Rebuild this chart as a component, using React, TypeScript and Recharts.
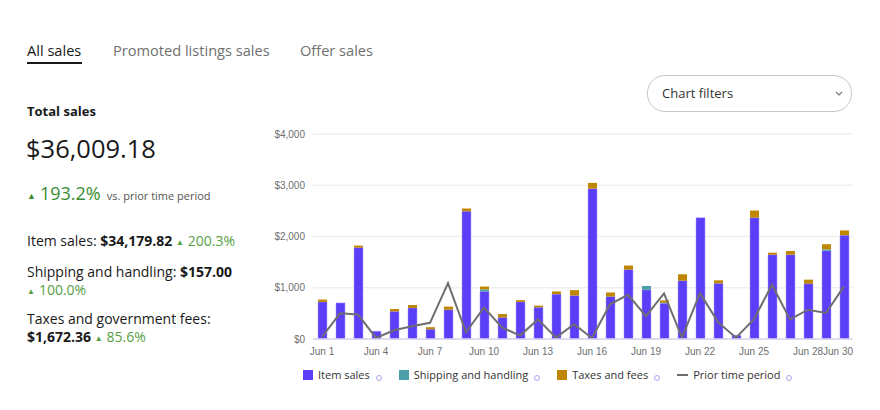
import React from "react";
import {
  ComposedChart,
  Bar,
  Line,
  XAxis,
  YAxis,
  CartesianGrid,
} from "recharts";

const days = [
  "Jun 1", "Jun 2", "Jun 3", "Jun 4", "Jun 5", "Jun 6", "Jun 7", "Jun 8", "Jun 9", "Jun 10",
  "Jun 11", "Jun 12", "Jun 13", "Jun 14", "Jun 15", "Jun 16", "Jun 17", "Jun 18", "Jun 19", "Jun 20",
  "Jun 21", "Jun 22", "Jun 23", "Jun 24", "Jun 25", "Jun 26", "Jun 27", "Jun 28", "Jun 29", "Jun 30",
];

const itemSales = [
  724, 704, 1783, 151, 539, 605, 191, 572, 2493, 928,
  421, 724, 618, 875, 849, 2934, 829, 1355, 960, 697,
  1138, 2368, 1086, 72, 2368, 1645, 1645, 1079, 1724, 2026,
];

const shipping = [
  0, 0, 0, 0, 0, 0, 0, 0, 0, 40,
  0, 0, 0, 0, 0, 0, 0, 0, 75, 12,
  0, 0, 0, 0, 0, 0, 0, 0, 25, 0,
];

const taxes = [
  46, 0, 40, 0, 46, 59, 39, 60, 53, 55,
  66, 33, 33, 53, 105, 112, 79, 79, 0, 45,
  125, 0, 59, 0, 139, 39, 72, 79, 100, 92,
];

const priorPeriod = [
  39, 500, 480, 20, 171, 250, 316, 1092, 132, 612,
  224, 66, 382, 26, 289, 20, 678, 862, 447, 888,
  26, 895, 329, 26, 388, 1059, 382, 572, 507, 1026,
];

const xTicks = ["Jun 1", "Jun 4", "Jun 7", "Jun 10", "Jun 13", "Jun 16", "Jun 19", "Jun 22", "Jun 25", "Jun 28", "Jun 30"];
const yTicks = [0, 1000, 2000, 3000, 4000];

const chartData = days.map((d, i) => ({
  day: d,
  item: itemSales[i],
  ship: shipping[i],
  tax: taxes[i],
  prior: priorPeriod[i],
}));

const PURPLE = "#5b3ef8";
const TEAL = "#4a9fa9";
const GOLD = "#bf8700";
const LINE = "#6e6e6e";
const GREEN = "#3b8c34";
const LIGHT_GREEN = "#55a045";

const font = "'Open Sans', 'Liberation Sans', Arial, sans-serif";
const tickFont = "'Liberation Sans', Arial, sans-serif";

const fmtMoney = (v: number) => "$" + v.toLocaleString("en-US");

// last label is pulled back inside the plot like the original
const XTick = (props: any) => {
  const { x, y, payload } = props;
  const shift = payload.value === "Jun 30" ? -6 : 0;
  return (
    <text
      x={x + shift}
      y={y}
      dy="0.71em"
      textAnchor="middle"
      fontSize={10}
      fill="#6f6f6f"
      fontFamily={tickFont}
    >
      {payload.value}
    </text>
  );
};

const InfoIcon = () => (
  <span
    style={{
      display: "inline-block",
      width: 6,
      height: 6,
      border: "1px solid #aea3f3",
      borderRadius: "50%",
      marginLeft: 6,
      position: "relative",
      top: 3,
      boxSizing: "border-box",
    }}
  />
);

const legendItems = [
  { label: "Item sales", color: PURPLE, kind: "box" },
  { label: "Shipping and handling", color: TEAL, kind: "box" },
  { label: "Taxes and fees", color: GOLD, kind: "box" },
  { label: "Prior time period", color: LINE, kind: "line" },
];

const Up = ({ color, size }: { color: string; size: number }) => (
  <span style={{ color, fontSize: size, marginRight: 4, position: "relative", top: -1 }}>▲</span>
);

const row = { position: "absolute" as const, left: 27, fontSize: 14, lineHeight: "17px", whiteSpace: "nowrap" as const };

export default function App() {
  return (
    <div
      style={{
        position: "absolute",
        left: 0,
        top: 0,
        width: 880,
        height: 410,
        background: "#fff",
        fontFamily: font,
        color: "#191919",
      }}
    >
      {/* tabs */}
      <div style={{ position: "absolute", left: 27, top: 40, fontSize: 14.6, lineHeight: "20px", color: "#191919" }}>
        All sales
      </div>
      <div style={{ position: "absolute", left: 27, top: 62, width: 55, height: 2, background: "#191919" }} />
      <div style={{ position: "absolute", left: 113, top: 40, fontSize: 14.6, lineHeight: "20px", color: "#707070" }}>
        Promoted listings sales
      </div>
      <div style={{ position: "absolute", left: 300, top: 40, fontSize: 14.6, lineHeight: "20px", color: "#707070" }}>
        Offer sales
      </div>

      {/* summary */}
      <div style={{ position: "absolute", left: 27, top: 101, fontSize: 13, fontWeight: 700, lineHeight: "20px" }}>
        Total sales
      </div>
      <div style={{ position: "absolute", left: 26, top: 131, fontSize: 25.5, lineHeight: "34px" }}>
        $36,009.18
      </div>
      <div style={{ position: "absolute", left: 27, top: 181, lineHeight: "24px", whiteSpace: "nowrap" }}>
        <Up color={GREEN} size={9} />
        <span style={{ color: GREEN, fontSize: 18 }}>193.2%</span>
        <span style={{ color: "#555", fontSize: 11, marginLeft: 6 }}>vs. prior time period</span>
      </div>

      <div style={{ ...row, top: 232 }}>
        Item sales: <b>$34,179.82</b> <Up color={LIGHT_GREEN} size={8} />
        <span style={{ color: LIGHT_GREEN }}>200.3%</span>
      </div>
      <div style={{ ...row, top: 263 }}>
        Shipping and handling: <b>$157.00</b>
      </div>
      <div style={{ ...row, top: 281 }}>
        <Up color={LIGHT_GREEN} size={8} />
        <span style={{ color: LIGHT_GREEN }}>100.0%</span>
      </div>
      <div style={{ ...row, top: 310 }}>
        Taxes and government fees:
      </div>
      <div style={{ ...row, top: 328 }}>
        <b>$1,672.36</b> <Up color={LIGHT_GREEN} size={8} />
        <span style={{ color: LIGHT_GREEN }}>85.6%</span>
      </div>

      {/* chart filters */}
      <div
        style={{
          position: "absolute",
          left: 647,
          top: 75,
          width: 205,
          height: 37,
          border: "1px solid #c7c7c7",
          borderRadius: 18,
          boxSizing: "border-box",
        }}
      >
        <span style={{ position: "absolute", left: 14, top: 8, fontSize: 13, lineHeight: "18px", color: "#333" }}>
          Chart filters
        </span>
        <svg style={{ position: "absolute", right: 8, top: 15 }} width="8" height="6" viewBox="0 0 8 6">
          <polyline points="1,1 4,4 7,1" fill="none" stroke="#777" strokeWidth="1.2" />
        </svg>
      </div>

      {/* chart */}
      <div style={{ position: "absolute", left: 260, top: 120 }}>
        <ComposedChart
          width={600}
          height={250}
          data={chartData}
          margin={{ top: 14, right: 7, left: 0, bottom: 0 }}
        >
          <CartesianGrid vertical={false} stroke="#efefef" strokeWidth={1.5} />
          <XAxis
            dataKey="day"
            ticks={xTicks}
            interval={0}
            height={31}
            tickSize={0}
            tickMargin={9}
            axisLine={{ stroke: "#d9d5f2", strokeWidth: 1.5 }}
            tick={<XTick />}
          />
          <YAxis
            width={53}
            domain={[0, 4000]}
            ticks={yTicks}
            axisLine={false}
            tickSize={0}
            tickMargin={8}
            tickFormatter={fmtMoney}
            tick={{ fontSize: 10, fill: "#6f6f6f", fontFamily: tickFont }}
          />
          <Bar dataKey="item" stackId="s" fill={PURPLE} barSize={9} stroke="#a99cff" strokeWidth={0.5} isAnimationActive={false} />
          <Bar dataKey="ship" stackId="s" fill={TEAL} barSize={9} isAnimationActive={false} />
          <Bar dataKey="tax" stackId="s" fill={GOLD} barSize={9} isAnimationActive={false} />
          <Line
            type="linear"
            dataKey="prior"
            stroke={LINE}
            strokeWidth={2}
            dot={false}
            activeDot={false}
            isAnimationActive={false}
          />
        </ComposedChart>
      </div>

      {/* legend */}
      <div
        style={{
          position: "absolute",
          left: 303,
          top: 367,
          display: "flex",
          alignItems: "center",
          fontSize: 11,
          lineHeight: "16px",
          color: "#333",
          whiteSpace: "nowrap",
        }}
      >
        {legendItems.map((it, i) => (
          <div key={it.label} style={{ display: "flex", alignItems: "center", marginRight: i === 3 ? 0 : 17 }}>
            {it.kind === "box" ? (
              <span style={{ width: 10, height: 10, background: it.color, display: "inline-block", marginRight: 5 }} />
            ) : (
              <span style={{ width: 11, height: 2, background: it.color, display: "inline-block", marginRight: 5 }} />
            )}
            <span>{it.label}</span>
            <InfoIcon />
          </div>
        ))}
      </div>
    </div>
  );
}
